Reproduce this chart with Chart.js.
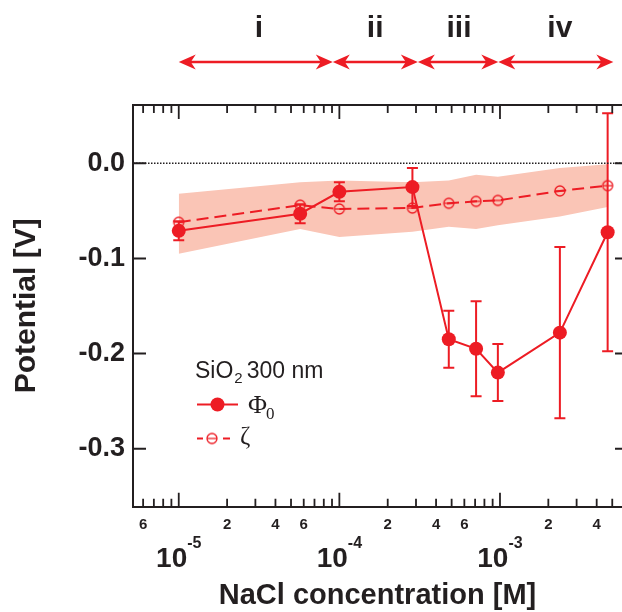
<!DOCTYPE html>
<html>
<head>
<meta charset="utf-8">
<script src="https://cdn.jsdelivr.net/npm/chart.js@4"></script>
<style>
  html, body { margin: 0; padding: 0; background: #fff; overflow: hidden; }
  canvas { display: block; }
</style>
</head>
<body>
<canvas id="chart" width="622" height="612"></canvas>
<script>
// DATA
const conc = [1e-5, 5.7e-5, 1e-4, 2.85e-4, 4.8e-4, 7.1e-4, 9.7e-4, 2.36e-3, 4.68e-3];
const phi = [-0.071, -0.053, -0.030, -0.025, -0.185, -0.195, -0.220, -0.178, -0.0725];
const phiErr = [0.010, 0.010, 0.010, 0.020, 0.030, 0.050, 0.030, 0.090, 0.125];
const zeta = [-0.062, -0.044, -0.048, -0.047, -0.042, -0.040, -0.039, -0.029, -0.0235];
const bandHigh = [-0.032, -0.020, -0.018, -0.020, -0.018, -0.012, -0.014, -0.005, -0.001];
const bandLow = [-0.095, -0.069, -0.0775, -0.072, -0.0666, -0.069, -0.065, -0.056, -0.046];

const yTicks = [-0.3, -0.2, -0.1, 0.0];
const xDecades = [1e-5, 1e-4, 1e-3];
const xDecadeExp = ['-5', '-4', '-3'];
const xMinorLabelValues = [6e-6, 2e-5, 4e-5, 6e-5, 2e-4, 4e-4, 6e-4, 2e-3, 4e-3];
const xMinorLabelText = ['6', '2', '4', '6', '2', '4', '6', '2', '4'];

const regionEdges = [1e-5, 9.1e-5, 3.08e-4, 9.76e-4, 5.08e-3];
const regionNames = ['i', 'ii', 'iii', 'iv'];
const regionLabelAt = [3.16e-5, 1.67e-4, 5.56e-4, 2.36e-3];

const xMin = 5.19e-6, xMax = 5.75e-3;
const yMin = -0.361, yMax = 0.0613;

// STILI
const RED = '#ED1C24';
const INK = '#231F20';
const BAND = 'rgb(250,197,182)';
const SANS = "'Liberation Sans', Arial, sans-serif";
const SERIF = "'Liberation Serif', 'Times New Roman', serif";

// piccole tacche minori dell'asse log
const xMinorTicks = [];
[1e-6, 1e-5, 1e-4, 1e-3].forEach(d => {
    for (let m = 2; m <= 9; m++) {
        const v = m * d;
        if (v > xMin && v < xMax) xMinorTicks.push(v);
    }
});

function pts(ys) {
    return conc.map((c, i) => ({ x: c, y: ys[i] }));
}

function zetaMarker(r) {
    const c = document.createElement('canvas');
    const s = 2 * r + 4;
    c.width = s; c.height = s;
    const g = c.getContext('2d');
    g.strokeStyle = RED;
    g.lineWidth = 1.3;
    g.beginPath(); g.arc(s / 2, s / 2, r, 0, 2 * Math.PI); g.stroke();
    g.beginPath(); g.moveTo(s / 2 - r, s / 2); g.lineTo(s / 2 + r, s / 2); g.stroke();
    return c;
}
const zetaPoint = zetaMarker(5);

function arrowHead(ctx, x, y, d) {
    ctx.beginPath();
    ctx.moveTo(x, y);
    ctx.lineTo(x - d * 17, y - 7.5);
    ctx.lineTo(x - d * 12, y);
    ctx.lineTo(x - d * 17, y + 7.5);
    ctx.closePath();
    ctx.fill();
}

// PLUGIN: error bar, tacche, frecce, legenda
const extras = {
    id: 'extras',
    afterDatasetsDraw(chart) {
        const { ctx, scales: { x, y } } = chart;
        ctx.save();
        ctx.strokeStyle = RED;
        ctx.lineWidth = 2;
        conc.forEach((c, i) => {
            const px = x.getPixelForValue(c);
            const t = y.getPixelForValue(phi[i] + phiErr[i]);
            const b = y.getPixelForValue(phi[i] - phiErr[i]);
            ctx.beginPath();
            ctx.moveTo(px, t); ctx.lineTo(px, b);
            ctx.moveTo(px - 5.5, t); ctx.lineTo(px + 5.5, t);
            ctx.moveTo(px - 5.5, b); ctx.lineTo(px + 5.5, b);
            ctx.stroke();
        });
        ctx.restore();
    },
    afterDraw(chart) {
        const { ctx, chartArea: a, scales: { x, y } } = chart;
        ctx.save();

        // linea dello zero
        const y0 = y.getPixelForValue(0);
        ctx.strokeStyle = INK;
        ctx.lineWidth = 1.5;
        ctx.setLineDash([1.5, 1.5]);
        ctx.beginPath(); ctx.moveTo(a.left, y0); ctx.lineTo(a.right, y0); ctx.stroke();
        ctx.setLineDash([]);

        // asse superiore
        ctx.lineWidth = 2;
        ctx.beginPath(); ctx.moveTo(a.left - 1, a.top); ctx.lineTo(a.right, a.top); ctx.stroke();

        // tacche x (verso l'interno)
        ctx.lineWidth = 1.8;
        const tick = (v, len) => {
            const px = x.getPixelForValue(v);
            ctx.beginPath();
            ctx.moveTo(px, a.bottom); ctx.lineTo(px, a.bottom - len);
            ctx.moveTo(px, a.top); ctx.lineTo(px, a.top + len);
            ctx.stroke();
        };
        xMinorTicks.forEach(v => tick(v, 8));
        xDecades.forEach(v => tick(v, 14));

        // tacche y
        ctx.lineWidth = 2;
        yTicks.forEach(v => {
            const py = y.getPixelForValue(v);
            ctx.beginPath();
            ctx.moveTo(a.left, py); ctx.lineTo(a.left + 13, py);
            ctx.moveTo(a.right, py); ctx.lineTo(a.right - 7, py);
            ctx.stroke();
        });

        // etichette asse x
        ctx.fillStyle = INK;
        ctx.textAlign = 'center';
        ctx.textBaseline = 'alphabetic';
        ctx.font = 'bold 15px ' + SANS;
        xMinorLabelValues.forEach((v, i) => {
            ctx.fillText(xMinorLabelText[i], x.getPixelForValue(v), a.bottom + 22);
        });
        xDecades.forEach((v, i) => {
            const px = x.getPixelForValue(v);
            ctx.font = 'bold 28px ' + SANS;
            const w1 = ctx.measureText('10').width;
            ctx.font = 'bold 16px ' + SANS;
            const w2 = ctx.measureText(xDecadeExp[i]).width;
            const start = px - (w1 + w2) / 2;
            ctx.textAlign = 'left';
            ctx.font = 'bold 28px ' + SANS;
            ctx.fillText('10', start, a.bottom + 60);
            ctx.font = 'bold 16px ' + SANS;
            ctx.fillText(xDecadeExp[i], start + w1, a.bottom + 41);
        });

        // frecce delle regioni
        ctx.strokeStyle = RED;
        ctx.fillStyle = RED;
        ctx.lineWidth = 2.5;
        const ay = 62;
        for (let i = 0; i < regionNames.length; i++) {
            const x1 = x.getPixelForValue(regionEdges[i]);
            const x2 = x.getPixelForValue(regionEdges[i + 1]);
            ctx.beginPath(); ctx.moveTo(x1 + 10, ay); ctx.lineTo(x2 - 10, ay); ctx.stroke();
            arrowHead(ctx, x1, ay, -1);
            arrowHead(ctx, x2, ay, 1);
        }
        ctx.fillStyle = INK;
        ctx.textAlign = 'center';
        ctx.font = 'bold 30px ' + SANS;
        regionNames.forEach((n, i) => {
            ctx.fillText(n, x.getPixelForValue(regionLabelAt[i]), 37);
        });

        // legenda
        ctx.textAlign = 'left';
        ctx.font = '23px ' + SANS;
        ctx.fillText('SiO', 195, 378);
        let lx = 195 + ctx.measureText('SiO').width;
        ctx.font = '15px ' + SANS;
        ctx.fillText('2', lx + 1, 383);
        lx += 1 + ctx.measureText('2').width;
        ctx.font = '23px ' + SANS;
        ctx.fillText('300 nm', lx + 4, 378);

        ctx.strokeStyle = RED;
        ctx.fillStyle = RED;
        ctx.lineWidth = 2;
        ctx.beginPath(); ctx.moveTo(197, 404.5); ctx.lineTo(238, 404.5); ctx.stroke();
        ctx.beginPath(); ctx.arc(217.5, 404.5, 7, 0, 2 * Math.PI); ctx.fill();
        ctx.beginPath();
        ctx.moveTo(197, 438.5); ctx.lineTo(203, 438.5);
        ctx.moveTo(223, 438.5); ctx.lineTo(230, 438.5);
        ctx.stroke();
        ctx.drawImage(zetaPoint, 212 - zetaPoint.width / 2, 438.5 - zetaPoint.height / 2);

        ctx.fillStyle = INK;
        ctx.font = '26px ' + SERIF;
        ctx.fillText('Φ', 248, 413);
        lx = 248 + ctx.measureText('Φ').width;
        ctx.font = '17px ' + SERIF;
        ctx.fillText('0', lx - 1, 419);
        ctx.font = '25px ' + SERIF;
        ctx.fillText('ζ', 240, 444);

        ctx.restore();
    }
};

const chart = new Chart(document.getElementById('chart'), {
    type: 'line',
    data: {
        datasets: [
            {
                label: 'band low',
                data: pts(bandLow),
                borderColor: 'transparent',
                borderWidth: 0,
                pointRadius: 0,
                fill: false,
                order: 10
            },
            {
                label: 'band high',
                data: pts(bandHigh),
                borderColor: 'transparent',
                borderWidth: 0,
                pointRadius: 0,
                backgroundColor: BAND,
                fill: '-1',
                order: 9
            },
            {
                label: 'ζ',
                data: pts(zeta),
                borderColor: RED,
                borderWidth: 2,
                borderDash: [12, 6],
                pointStyle: zetaPoint,
                pointRadius: 5,
                fill: false,
                order: 2
            },
            {
                label: 'Φ0',
                data: pts(phi),
                borderColor: RED,
                borderWidth: 2,
                pointStyle: 'circle',
                pointRadius: 7,
                pointBackgroundColor: RED,
                pointBorderWidth: 0,
                fill: false,
                order: 1
            }
        ]
    },
    options: {
        responsive: false,
        animation: false,
        devicePixelRatio: 1,
        layout: { autoPadding: false, padding: { top: 105, left: 0, right: 0, bottom: 0 } },
        elements: { line: { tension: 0 } },
        plugins: {
            legend: { display: false },
            tooltip: { enabled: false }
        },
        scales: {
            x: {
                type: 'logarithmic',
                min: xMin,
                max: xMax,
                grid: { display: false, drawTicks: false },
                border: { display: true, color: INK, width: 2 },
                ticks: { display: false },
                title: {
                    display: true,
                    text: 'NaCl concentration [M]',
                    color: INK,
                    font: { family: SANS, size: 29, weight: 'bold', lineHeight: 1 },
                    padding: { top: 0, bottom: 2 }
                },
                afterFit(scale) { scale.height = 105.3; }
            },
            y: {
                type: 'linear',
                min: yMin,
                max: yMax,
                afterBuildTicks(scale) { scale.ticks = yTicks.map(v => ({ value: v })); },
                grid: { display: false, drawTicks: false },
                border: { display: true, color: INK, width: 2 },
                ticks: {
                    color: INK,
                    padding: 8,
                    font: { family: SANS, size: 27, weight: 'bold' },
                    callback: v => v.toFixed(1)
                },
                title: {
                    display: true,
                    text: 'Potential [V]',
                    color: INK,
                    font: { family: SANS, size: 30, weight: 'bold', lineHeight: 1 },
                    padding: { top: 12, bottom: 0 }
                },
                afterFit(scale) { scale.width = 133; }
            }
        }
    },
    plugins: [extras]
});
</script>
</body>
</html>
